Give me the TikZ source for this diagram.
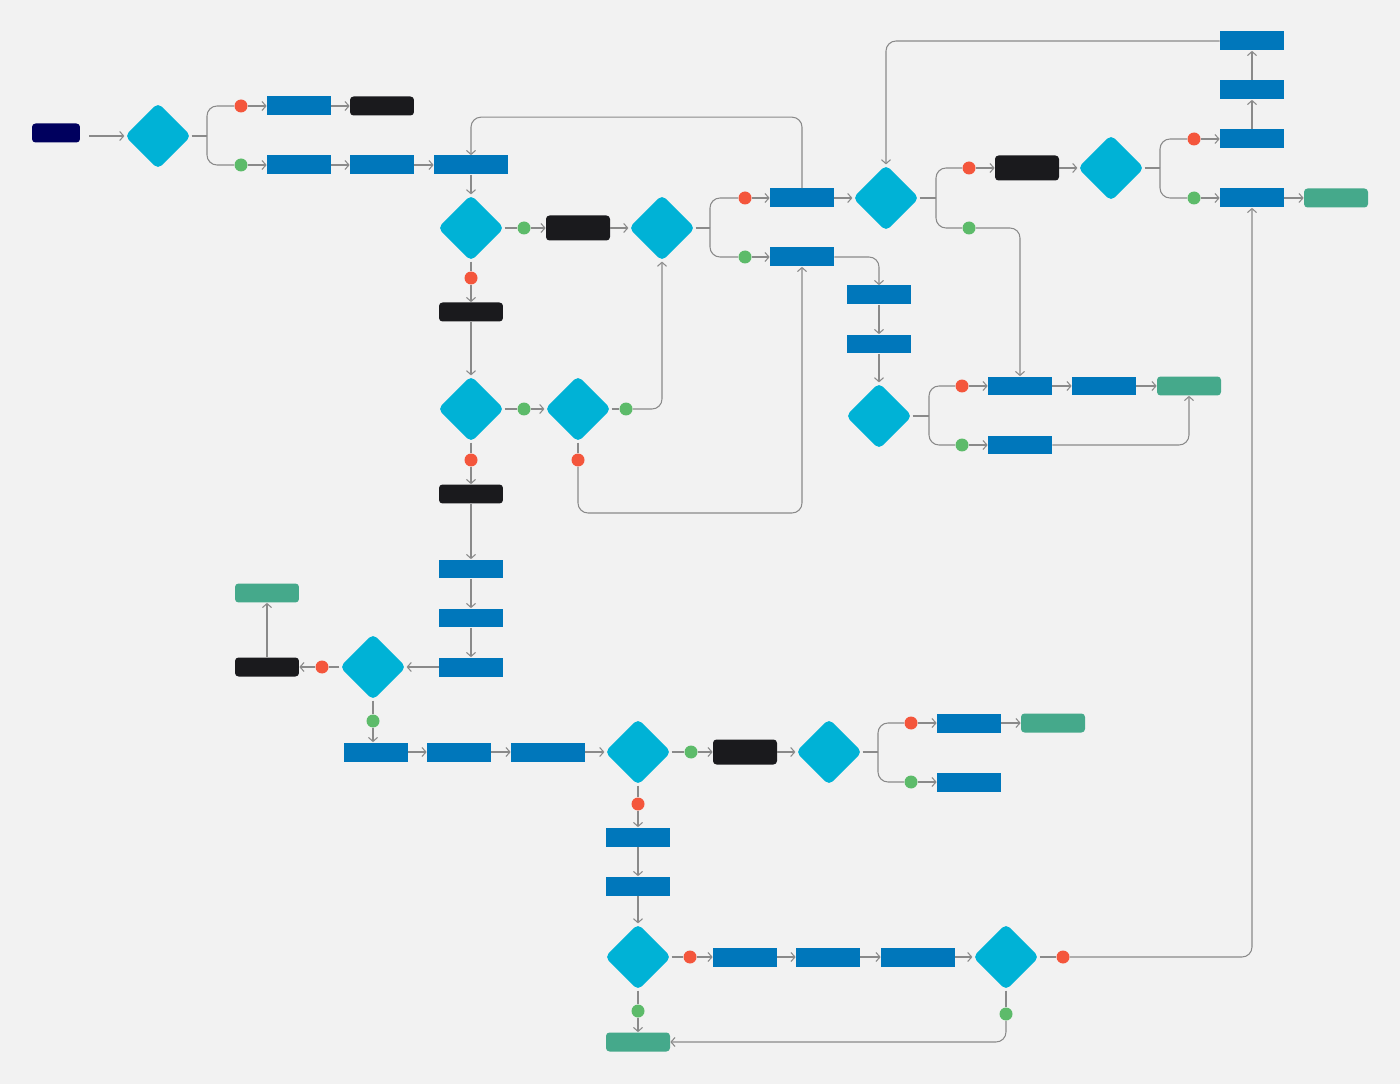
\documentclass[tikz,border=0pt]{standalone}
\usetikzlibrary{positioning,arrows.meta,calc,shapes.geometric}
\definecolor{bgpop}{HTML}{F2F2F2}
\definecolor{taskblue}{HTML}{0077BB}
\definecolor{choicecyan}{HTML}{00B2D6}
\definecolor{waitblack}{HTML}{1A1A1D}
\definecolor{startnavy}{HTML}{00005E}
\definecolor{endgreen}{HTML}{45A98B}
\definecolor{nored}{HTML}{F4563C}
\definecolor{yesgreen}{HTML}{5DBB6A}
\definecolor{linegray}{HTML}{8A8A8A}

\begin{document}
\begin{tikzpicture}[x=0.02cm, y=-0.02cm,
  bluebox/.style={fill=taskblue, minimum width=1.28cm, minimum height=0.38cm, inner sep=0},
  widebox/.style={bluebox, minimum width=1.48cm},
  blackbox/.style={fill=waitblack, rounded corners=2pt, minimum width=1.28cm, minimum height=0.38cm, inner sep=0},
  tallbox/.style={blackbox, minimum height=0.5cm},
  endbox/.style={fill=endgreen, rounded corners=2pt, minimum width=1.28cm, minimum height=0.38cm, inner sep=0},
  startbox/.style={fill=startnavy, rounded corners=2pt, minimum width=0.96cm, minimum height=0.38cm, inner sep=0},
  choice/.style={diamond, aspect=1, fill=choicecyan, rounded corners=3pt, minimum width=1.33cm, minimum height=1.33cm, inner sep=0},
  reddot/.style={circle, fill=nored, minimum size=0.26cm, inner sep=0},
  greendot/.style={circle, fill=yesgreen, minimum size=0.26cm, inner sep=0},
  link/.style={draw=linegray, line width=0.6pt, rounded corners=2mm},
  arrowlink/.style={link, -{Straight Barb[length=0.8mm,width=1.8mm]}}]
\fill[bgpop, use as bounding box] (0,0) rectangle (1400,1084);

\node[startbox] (s0) at (56,133) {};
\node[choice] (d1) at (158,136) {};
\coordinate (j1) at (207,136);
\node[reddot] (r1) at (241,106) {};
\node[bluebox] (b1) at (299,106) {};
\node[blackbox] (k1) at (382,106) {};
\node[greendot] (g1) at (241,165) {};
\node[bluebox] (b2) at (299,165) {};
\node[bluebox] (b3) at (382,165) {};
\node[widebox] (b4) at (471,165) {};
\node[choice] (d2) at (471,228) {};
\node[greendot] (g2) at (524,228) {};
\node[tallbox] (k2) at (578,228) {};
\node[choice] (d3) at (662,228) {};
\node[reddot] (r2) at (471,278) {};
\node[blackbox] (k3) at (471,312) {};
\node[choice] (d4) at (471,409) {};
\node[greendot] (g3) at (524,409) {};
\node[choice] (d5) at (578,409) {};
\node[greendot] (g4) at (626,409) {};
\node[reddot] (r3) at (578,460) {};
\node[reddot] (r4) at (471,460) {};
\node[blackbox] (k4) at (471,494) {};
\node[bluebox] (b5) at (471,569) {};
\node[bluebox] (b6) at (471,618) {};
\node[bluebox] (b7) at (471,667) {};
\node[choice] (d6) at (373,667) {};
\node[reddot] (r5) at (322,667) {};
\node[blackbox] (k5) at (267,667) {};
\node[endbox] (e1) at (267,593) {};
\node[greendot] (g5) at (373,721) {};
\node[bluebox] (b8) at (376,752) {};
\node[bluebox] (b9) at (459,752) {};
\node[widebox] (b10) at (548,752) {};
\node[choice] (d7) at (638,752) {};
\node[greendot] (g6) at (691,752) {};
\node[tallbox] (k6) at (745,752) {};
\node[choice] (d8) at (829,752) {};
\coordinate (j8) at (878,752);
\node[reddot] (r6) at (911,723) {};
\node[bluebox] (b11) at (969,723) {};
\node[endbox] (e2) at (1053,723) {};
\node[greendot] (g7) at (911,782) {};
\node[bluebox] (b12) at (969,782) {};
\node[reddot] (r7) at (638,804) {};
\node[bluebox] (b13) at (638,837) {};
\node[bluebox] (b14) at (638,886) {};
\node[choice] (d9) at (638,957) {};
\node[reddot] (r8) at (690,957) {};
\node[bluebox] (b15) at (745,957) {};
\node[bluebox] (b16) at (828,957) {};
\node[widebox] (b17) at (918,957) {};
\node[choice] (d10) at (1006,957) {};
\node[reddot] (r9) at (1063,957) {};
\node[greendot] (g8) at (1006,1014) {};
\node[greendot] (g9) at (638,1011) {};
\node[endbox] (e3) at (638,1042) {};
\coordinate (j3) at (710,228);
\node[reddot] (r10) at (745,198) {};
\node[bluebox] (b18) at (802,198) {};
\node[choice] (d11) at (886,198) {};
\node[greendot] (g10) at (745,257) {};
\node[bluebox] (b19) at (802,257) {};
\node[bluebox] (b20) at (879,295) {};
\node[bluebox] (b21) at (879,344) {};
\node[choice] (d12) at (879,416) {};
\coordinate (j12) at (929,416);
\node[reddot] (r11) at (962,386) {};
\node[bluebox] (b22) at (1020,386) {};
\node[bluebox] (b23) at (1104,386) {};
\node[endbox] (e4) at (1189,386) {};
\node[greendot] (g11) at (962,445) {};
\node[bluebox] (b24) at (1020,445) {};
\coordinate (j11) at (936,198);
\node[reddot] (r12) at (969,168) {};
\node[tallbox] (k7) at (1027,168) {};
\node[choice] (d13) at (1111,168) {};
\coordinate (j13) at (1160,168);
\node[greendot] (g12) at (969,228) {};
\node[reddot] (r13) at (1194,139) {};
\node[bluebox] (b25) at (1252,139) {};
\node[bluebox] (b26) at (1252,90) {};
\node[bluebox] (b27) at (1252,41) {};
\node[greendot] (g13) at (1194,198) {};
\node[bluebox] (b28) at (1252,198) {};
\node[endbox] (e5) at (1336,198) {};

\draw[arrowlink, shorten <=1.8mm] (s0.east |- d1.west) -- (d1.west);
\draw[link] (d1) -- (j1);
\draw[link] (j1) |- (r1);
\draw[link] (j1) |- (g1);
\draw[arrowlink] (r1) -- (b1);
\draw[arrowlink] (b1) -- (k1);
\draw[arrowlink] (g1) -- (b2);
\draw[arrowlink] (b2) -- (b3);
\draw[arrowlink] (b3) -- (b4);
\draw[arrowlink] (b4) -- (d2);
\draw[arrowlink] (b18.north) -- ++(0,-71) -| (b4.north);
\draw[link] (d2) -- (g2);
\draw[arrowlink] (g2) -- (k2);
\draw[arrowlink] (k2) -- (d3);
\draw[link] (d2) -- (r2);
\draw[arrowlink] (r2) -- (k3);
\draw[arrowlink] (k3) -- (d4);
\draw[link] (d4) -- (g3);
\draw[arrowlink] (g3) -- (d5);
\draw[link] (d5) -- (g4);
\draw[arrowlink] (g4) -| (d3.south);
\draw[link] (d5) -- (r3);
\draw[arrowlink] (r3) -- ++(0,53) -| (b19.south);
\draw[link] (d4) -- (r4);
\draw[arrowlink] (r4) -- (k4);
\draw[arrowlink] (k4) -- (b5);
\draw[arrowlink] (b5) -- (b6);
\draw[arrowlink] (b6) -- (b7);
\draw[arrowlink] (b7) -- (d6);
\draw[link] (d6) -- (r5);
\draw[arrowlink] (r5) -- (k5);
\draw[arrowlink] (k5) -- (e1);
\draw[link] (d6) -- (g5);
\draw[arrowlink] (g5) -- (g5 |- b8.north);
\draw[arrowlink] (b8) -- (b9);
\draw[arrowlink] (b9) -- (b10);
\draw[arrowlink] (b10) -- (d7);
\draw[link] (d7) -- (g6);
\draw[arrowlink] (g6) -- (k6);
\draw[arrowlink] (k6) -- (d8);
\draw[link] (d8) -- (j8);
\draw[link] (j8) |- (r6);
\draw[link] (j8) |- (g7);
\draw[arrowlink] (r6) -- (b11);
\draw[arrowlink] (b11) -- (e2);
\draw[arrowlink] (g7) -- (b12);
\draw[link] (d7) -- (r7);
\draw[arrowlink] (r7) -- (b13);
\draw[arrowlink] (b13) -- (b14);
\draw[arrowlink] (b14) -- (d9);
\draw[link] (d9) -- (r8);
\draw[arrowlink] (r8) -- (b15);
\draw[arrowlink] (b15) -- (b16);
\draw[arrowlink] (b16) -- (b17);
\draw[arrowlink] (b17) -- (d10);
\draw[link] (d10) -- (r9);
\draw[arrowlink] (r9) -| (b28.south);
\draw[link] (d10) -- (g8);
\draw[arrowlink] (g8) |- (e3.east);
\draw[link] (d9) -- (g9);
\draw[arrowlink] (g9) -- (e3);
\draw[link] (d3) -- (j3);
\draw[link] (j3) |- (r10);
\draw[link] (j3) |- (g10);
\draw[arrowlink] (r10) -- (b18);
\draw[arrowlink] (b18) -- (d11);
\draw[arrowlink] (g10) -- (b19);
\draw[arrowlink] (b19.east) -| (b20.north);
\draw[arrowlink] (b20) -- (b21);
\draw[arrowlink] (b21) -- (d12);
\draw[link] (d12) -- (j12);
\draw[link] (j12) |- (r11);
\draw[link] (j12) |- (g11);
\draw[arrowlink] (r11) -- (b22);
\draw[arrowlink] (b22) -- (b23);
\draw[arrowlink] (b23) -- (e4);
\draw[arrowlink] (g11) -- (b24);
\draw[arrowlink] (b24.east) -| (e4.south);
\draw[link] (d11) -- (j11);
\draw[link] (j11) |- (r12);
\draw[link] (j11) |- (g12);
\draw[arrowlink] (r12) -- (k7);
\draw[arrowlink] (k7) -- (d13);
\draw[arrowlink] (g12) -| (b22.north);
\draw[link] (d13) -- (j13);
\draw[link] (j13) |- (r13);
\draw[link] (j13) |- (g13);
\draw[arrowlink] (r13) -- (b25);
\draw[arrowlink] (b25) -- (b26);
\draw[arrowlink] (b26) -- (b27);
\draw[arrowlink] (b27.west) -| (d11.north);
\draw[arrowlink] (g13) -- (b28);
\draw[arrowlink] (b28) -- (e5);
\end{tikzpicture}
\end{document}
